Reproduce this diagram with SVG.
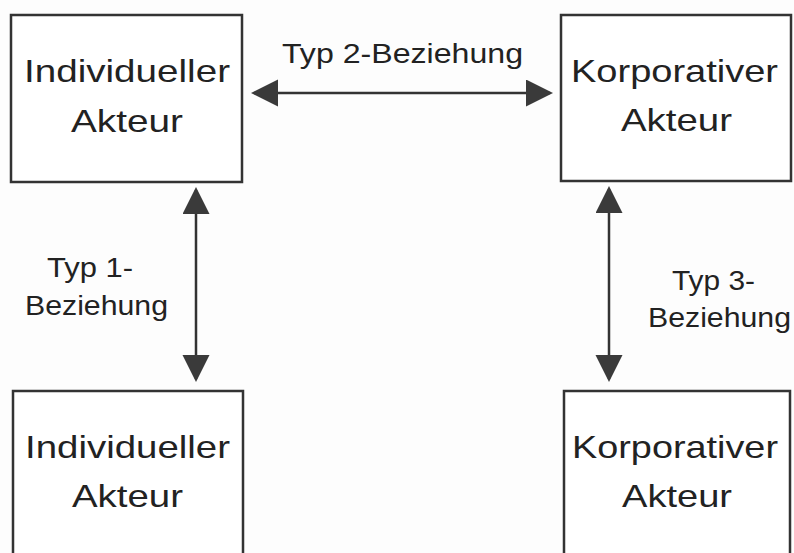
<svg xmlns="http://www.w3.org/2000/svg" width="794" height="553" viewBox="0 0 794 553">
  <style>
    .box { fill: #ffffff; stroke: #333333; stroke-width: 2.5; }
    .name { font-family: "Liberation Sans", Arial, sans-serif; font-size: 32px; fill: #222222; }
    .label { font-family: "Liberation Sans", Arial, sans-serif; font-size: 27px; fill: #222222; }
    .link { stroke: #333333; stroke-width: 2.5; fill: none; marker-start: url(#head); marker-end: url(#head); }
  </style>
  <defs>
    <marker id="head" markerUnits="userSpaceOnUse" markerWidth="28" markerHeight="28" refX="24" refY="13.5" orient="auto-start-reverse">
      <path d="M0,0 L27,13.5 L0,27 Z" fill="#3a3a3a"/>
    </marker>
  </defs>
  <rect width="794" height="553" fill="#fdfdfd"/>

  <g id="ind-top">
    <rect class="box" x="11" y="15" width="231" height="167"/>
    <text class="name" x="24" y="82" textLength="206" lengthAdjust="spacingAndGlyphs">Individueller</text>
    <text class="name" x="71" y="132" textLength="112" lengthAdjust="spacingAndGlyphs">Akteur</text>
  </g>

  <g id="korp-top">
    <rect class="box" x="561" y="15" width="230" height="166"/>
    <text class="name" x="571" y="82" textLength="207" lengthAdjust="spacingAndGlyphs">Korporativer</text>
    <text class="name" x="621" y="131" textLength="111" lengthAdjust="spacingAndGlyphs">Akteur</text>
  </g>

  <g id="ind-bottom">
    <rect class="box" x="13" y="391" width="230" height="175"/>
    <text class="name" x="25" y="458" textLength="205" lengthAdjust="spacingAndGlyphs">Individueller</text>
    <text class="name" x="72" y="507" textLength="111" lengthAdjust="spacingAndGlyphs">Akteur</text>
  </g>

  <g id="korp-bottom">
    <rect class="box" x="564" y="391" width="226" height="175"/>
    <text class="name" x="572" y="458" textLength="206" lengthAdjust="spacingAndGlyphs">Korporativer</text>
    <text class="name" x="622" y="507" textLength="110" lengthAdjust="spacingAndGlyphs">Akteur</text>
  </g>

  <g id="connectors">
    <line class="link" x1="254" y1="93" x2="550" y2="93"/>
    <line class="link" x1="196" y1="190" x2="196" y2="379"/>
    <line class="link" x1="609" y1="189" x2="609" y2="379"/>
  </g>

  <g id="labels">
    <text class="label" x="282" y="63" textLength="241" lengthAdjust="spacingAndGlyphs">Typ 2-Beziehung</text>
    <text class="label" x="47" y="277" textLength="86" lengthAdjust="spacingAndGlyphs">Typ 1-</text>
    <text class="label" x="25" y="315" textLength="143" lengthAdjust="spacingAndGlyphs">Beziehung</text>
    <text class="label" x="672" y="290" textLength="83" lengthAdjust="spacingAndGlyphs">Typ 3-</text>
    <text class="label" x="648" y="327" textLength="143" lengthAdjust="spacingAndGlyphs">Beziehung</text>
  </g>
</svg>
